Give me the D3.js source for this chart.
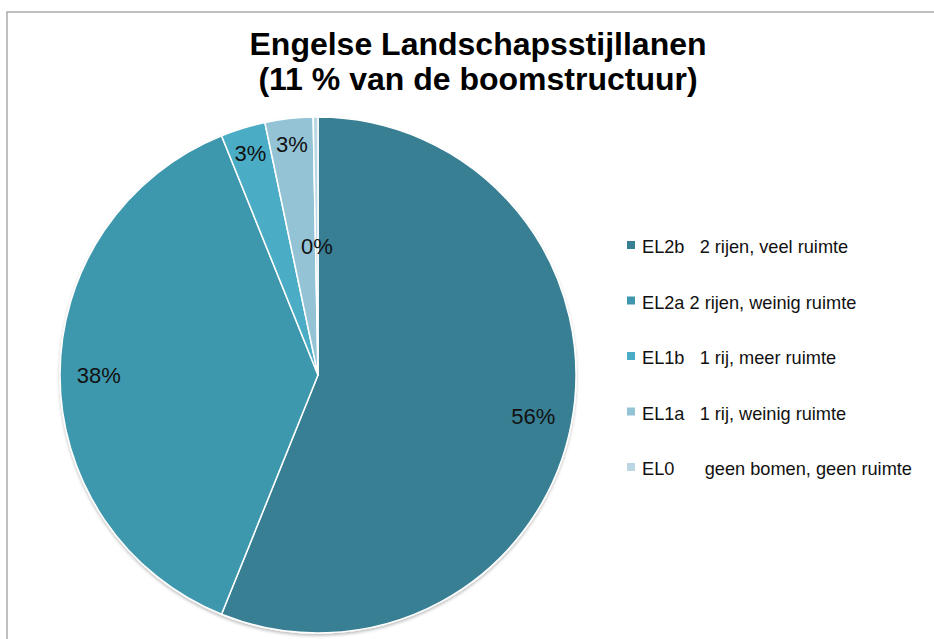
<!DOCTYPE html>
<html>
<head>
<meta charset="utf-8">
<script src="https://cdn.jsdelivr.net/npm/d3@7"></script>
<style>
  html, body { margin: 0; padding: 0; background: #fff; }
  svg { display: block; font-family: "Liberation Sans", Arial, sans-serif; }
</style>
</head>
<body>
<div id="chart"></div>
<script>
// Data
const titleLines = ['Engelse Landschapsstijllanen', '(11 % van de boomstructuur)'];
const categories = ['EL2b   2 rijen, veel ruimte', 'EL2a 2 rijen, weinig ruimte', 'EL1b   1 rij, meer ruimte', 'EL1a   1 rij, weinig ruimte', 'EL0      geen bomen, geen ruimte'];
const values = [56.1, 37.8, 2.8, 3.0, 0.3];
const colors = ['#377f93', '#3e97ad', '#4bacc6', '#93c3d5', '#bad7e3'];

const width = 934, height = 639;
const cx = 318, cy = 375, radius = 258;

const svg = d3.select('#chart').append('svg')
  .attr('width', width)
  .attr('height', height);

// drop shadow under the pie
const defs = svg.append('defs');
defs.append('filter')
  .attr('id', 'shadow')
  .attr('x', '-10%').attr('y', '-10%').attr('width', '120%').attr('height', '120%')
  .append('feDropShadow')
  .attr('dx', 0).attr('dy', 2)
  .attr('stdDeviation', 1.5)
  .attr('flood-color', '#000')
  .attr('flood-opacity', 0.25);

// chart frame (right and bottom edges run off the page)
svg.append('rect')
  .attr('x', 7).attr('y', 12)
  .attr('width', width + 10).attr('height', height + 10)
  .attr('fill', 'none')
  .attr('stroke', '#ababab')
  .attr('stroke-width', 1.5);

// title
svg.append('text')
  .attr('text-anchor', 'middle')
  .attr('font-size', '32px')
  .attr('font-weight', 'bold')
  .attr('fill', '#000')
  .selectAll('tspan')
  .data(titleLines)
  .enter()
  .append('tspan')
  .attr('x', 478)
  .attr('y', (d, i) => 55 + i * 35)
  .text(d => d);

const data = categories.map((c, i) => ({ name: c, value: values[i], color: colors[i] }));

const pie = d3.pie().value(d => d.value).sort(null);
const arcs = pie(data);

const arc = d3.arc().innerRadius(0).outerRadius(radius);

const g = svg.append('g')
  .attr('transform', `translate(${cx},${cy})`);

g.append('g')
  .attr('filter', 'url(#shadow)')
  .selectAll('path')
  .data(arcs)
  .enter()
  .append('path')
  .attr('d', arc)
  .attr('fill', d => d.data.color)
  .attr('stroke', '#fff')
  .attr('stroke-width', 1.5)
  .attr('stroke-linejoin', 'round');

// percentage labels (best-fit style: tiny slice nearer the centre)
const labelArc = r => d3.arc().innerRadius(r).outerRadius(r);
const labelRadius = v => v < 1 ? radius * 0.5 : (v < 5 ? radius * 0.9 : radius * 0.85);

g.selectAll('text.pct')
  .data(arcs)
  .enter()
  .append('text')
  .attr('class', 'pct')
  .attr('transform', d => {
    const [x, y] = labelArc(labelRadius(d.data.value)).centroid(d);
    return `translate(${x},${y})`;
  })
  .attr('text-anchor', 'middle')
  .attr('dy', '0.35em')
  .attr('font-size', '22px')
  .attr('fill', '#111')
  .text(d => `${Math.round(d.data.value)}%`);

// legend
const legend = svg.append('g')
  .attr('transform', 'translate(627,247)');

const rows = legend.selectAll('g')
  .data(data)
  .enter()
  .append('g')
  .attr('transform', (d, i) => `translate(0,${i * 55.5})`);

rows.append('rect')
  .attr('x', 0).attr('y', -6)
  .attr('width', 8).attr('height', 8)
  .attr('fill', d => d.color);

rows.append('text')
  .attr('x', 15)
  .attr('y', 0)
  .attr('dy', '0.35em')
  .attr('font-size', '18.2px')
  .attr('fill', '#111')
  .style('white-space', 'pre')
  .text(d => d.name);
</script>
</body>
</html>
